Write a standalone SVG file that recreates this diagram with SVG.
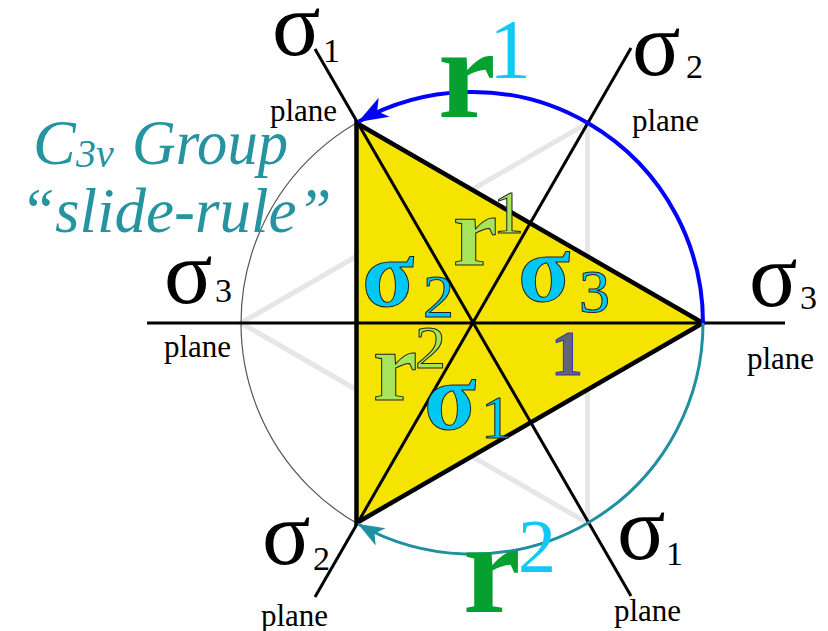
<svg xmlns="http://www.w3.org/2000/svg" width="828" height="631" viewBox="0 0 828 631">
<style>
.ser{font-family:"Liberation Serif","Times New Roman",serif;}
.sig{font-family:"Liberation Serif","Times New Roman",serif;font-size:90px;fill:#000;}
.sub{font-family:"Liberation Serif","Times New Roman",serif;font-size:34px;fill:#000;}
.pl{font-family:"Liberation Serif","Times New Roman",serif;font-size:31px;fill:#000;}
.title{font-family:"Liberation Serif","Times New Roman",serif;font-style:italic;fill:#2593a0;}
.isig{font-family:"Liberation Serif","Times New Roman",serif;font-weight:bold;font-size:96px;fill:#00c8f5;stroke:#222;stroke-width:1;}
.idig{font-family:"Liberation Serif","Times New Roman",serif;font-size:62px;stroke:#222;stroke-width:1;}
.ir{font-family:"Liberation Serif","Times New Roman",serif;font-weight:bold;font-size:100px;fill:#a6e45c;stroke:#222;stroke-width:1;}
.axis{stroke:#000;stroke-width:3;fill:none;}
</style>
<defs>
<marker id="ab" markerUnits="userSpaceOnUse" markerWidth="34" markerHeight="24" refX="30" refY="11" orient="auto" viewBox="0 0 34 22">
<path d="M0,0 L30,11 L0,22 L8,11 z" fill="#0000ff"/>
</marker>
<marker id="at" markerUnits="userSpaceOnUse" markerWidth="30" markerHeight="22" refX="26" refY="10" orient="auto" viewBox="0 0 30 20">
<path d="M0,0 L26,10 L0,20 L7,10 z" fill="#2090a0"/>
</marker>
</defs>
<rect width="828" height="631" fill="#fff"/>
<g id="background">
<polygon points="241,323 587.5,123 587.5,523" fill="none" stroke="#e6e6e6" stroke-width="5"/>
<circle cx="472" cy="323" r="231" fill="none" stroke="#555" stroke-width="1.2"/>
</g>
<g id="triangle">
<polygon points="356.5,123 703,323 356.5,523" fill="#f5e400" stroke="#000" stroke-width="4.5" stroke-linejoin="miter"/>
</g>
<g id="planes">
<line class="axis" x1="147" y1="323" x2="785" y2="323"/>
<line class="axis" x1="315" y1="49" x2="631" y2="596"/>
<line class="axis" x1="315" y1="597" x2="631" y2="48"/>
</g>
<g id="connectors">
<path d="M703,323 A231,231 0 0 0 358,122" fill="none" stroke="#0000ff" stroke-width="4" marker-end="url(#ab)"/>
<path d="M703,323 A231,231 0 0 1 358,524" fill="none" stroke="#2090a0" stroke-width="3" marker-end="url(#at)"/>
</g>
<g id="title">
<text class="title" x="33" y="164" font-size="64">C</text>
<text class="title" x="76" y="167" font-size="40">3v</text>
<text class="title" x="132" y="164" font-size="64" textLength="156" lengthAdjust="spacingAndGlyphs">Group</text>
<text class="title" x="20" y="232" font-size="63">“slide-rule”</text>
</g>
<g id="sigma1-top">
<text class="sig" x="272" y="55">σ</text><text class="sub" x="323" y="62">1</text>
<text class="pl" x="270" y="121">plane</text>
</g>
<g id="sigma2-top">
<text class="sig" x="632" y="75">σ</text><text class="sub" x="686" y="78">2</text>
<text class="pl" x="632" y="131">plane</text>
</g>
<g id="sigma3-left">
<text class="sig" x="164" y="303">σ</text><text class="sub" x="215" y="302">3</text>
<text class="pl" x="164" y="357">plane</text>
</g>
<g id="sigma3-right">
<text class="sig" x="749" y="306">σ</text><text class="sub" x="800" y="309">3</text>
<text class="pl" x="747" y="369">plane</text>
</g>
<g id="sigma2-bottom">
<text class="sig" x="262" y="564">σ</text><text class="sub" x="313" y="570">2</text>
<text class="pl" x="261" y="626">plane</text>
</g>
<g id="sigma1-bottom">
<text class="sig" x="617" y="559">σ</text><text class="sub" x="666" y="565">1</text>
<text class="pl" x="614" y="621">plane</text>
</g>
<g id="r1-label">
<text class="ser" x="438" y="117" font-size="130" font-weight="bold" fill="#06a030">r</text>
<text class="ser" x="489" y="78" font-size="84" fill="#14c8f5">1</text>
</g>
<g id="r2-label">
<text class="ser" x="463" y="612" font-size="130" font-weight="bold" fill="#06a030">r</text>
<text class="ser" x="518" y="572" font-size="76" fill="#14c8f5">2</text>
</g>
<g id="region-r1">
<text class="ir" x="453" y="265">r</text>
<text class="idig" x="493" y="233" fill="#a6e45c">1</text>
</g>
<g id="region-sigma2">
<text class="isig" x="362" y="306">σ</text>
<text class="idig" x="423" y="317" fill="#00c8f5">2</text>
</g>
<g id="region-sigma3">
<text class="isig" x="518" y="301">σ</text>
<text class="idig" x="579" y="312" fill="#00c8f5">3</text>
</g>
<g id="region-r2">
<text class="ir" x="373" y="400">r</text>
<text class="idig" x="415" y="368" fill="#a6e45c">2</text>
</g>
<g id="region-sigma1">
<text class="isig" x="424" y="429">σ</text>
<text class="idig" x="481" y="438" fill="#00c8f5">1</text>
</g>
<g id="region-identity">
<text class="ser" x="551" y="375" font-size="64" font-weight="bold" fill="#646478" stroke="#3030c0" stroke-width="1">1</text>
</g>
</svg>
